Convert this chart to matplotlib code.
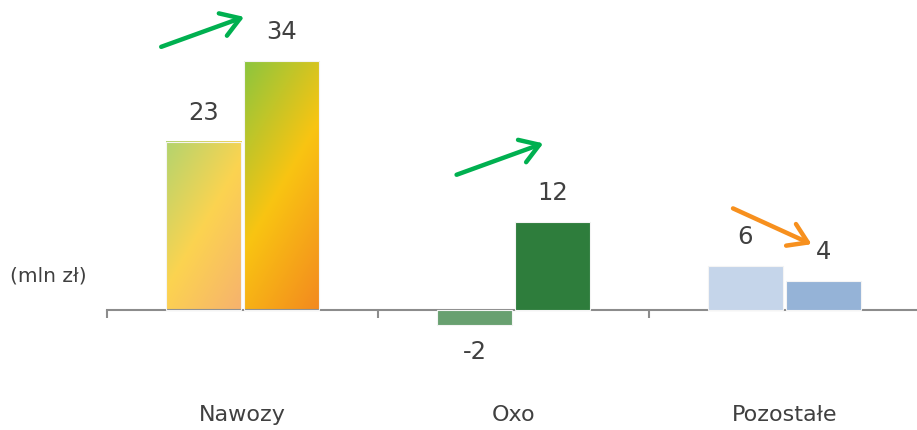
import numpy as np
import matplotlib.pyplot as plt
from matplotlib.colors import LinearSegmentedColormap

categories = ['Nawozy', 'Oxo', 'Pozostałe']
prev_values = [23, -2, 6]
curr_values = [34, 12, 4]

# colours: (start, mid, end) for gradient bars, plain for the rest
prev_colors = [('#b3d46e', '#fcd350', '#f6b26e'), '#68a070', '#c5d5ea']
curr_colors = [('#8cc63e', '#f9c412', '#f3891f'), '#2e7d3c', '#95b3d7']

# trend arrows: (x0, y0, x1, y1) in data units, colour
arrows = [((-0.30, 36.0), (0.006, 40.1), '#00b050'),
          ((0.79, 18.5), (1.11, 22.8), '#00b050'),
          ((1.81, 13.9), (2.10, 9.0), '#f7901e')]

text_col = '#404040'
axis_col = '#8c8c8c'

plt.rcParams['font.family'] = ['DejaVu Sans']

fig = plt.figure(figsize=(9.17, 4.30), dpi=100)
ax = fig.add_axes([107 / 917, 0, 813 / 917, 1])
ax.set_xlim(-0.5, 2.5)
ax.set_ylim(-120 / 7.31, 310 / 7.31)

w = 0.28
off = 0.144
x = np.arange(len(categories))


def grad_bar(xc, val, cols):
    x0, x1 = xc - w / 2, xc + w / 2
    # pixel size of bar for a diagonal gradient
    p0 = ax.transData.transform((x0, 0))
    p1 = ax.transData.transform((x1, val))
    pw, ph = abs(p1[0] - p0[0]), abs(p1[1] - p0[1])
    nx, ny = 60, 200
    u = np.linspace(0, pw, nx)[None, :]
    v = np.linspace(0, ph, ny)[:, None]  # from top
    t = 1.7 * u + v
    t = t / t.max()
    cmap = LinearSegmentedColormap.from_list('g', list(cols))
    ax.imshow(t, cmap=cmap, extent=(x0, x1, 0, val), origin='upper',
              aspect='auto', interpolation='bilinear', zorder=2)


for i in range(len(categories)):
    for xc, val, col in [(x[i] - off, prev_values[i], prev_colors[i]),
                         (x[i] + off, curr_values[i], curr_colors[i])]:
        if isinstance(col, tuple):
            grad_bar(xc, val, col)
            ax.bar(xc, val, w, facecolor='none', edgecolor='#f4f4f4', lw=0.8, zorder=3)
        else:
            ax.bar(xc, val, w, color=col, edgecolor='#f4f4f4', lw=0.8, zorder=3)
        dy = 21 if val >= 0 else -20
        ax.annotate(str(val), (xc, val), xytext=(0, dy), textcoords='offset points',
                    ha='center', va='center', fontsize=17.5, color=text_col)

for (s, e, c) in arrows:
    ax.annotate('', xy=e, xytext=s,
                arrowprops=dict(arrowstyle='->,head_length=0.7,head_width=0.45',
                                mutation_scale=19, lw=3.2, color=c,
                                shrinkA=0, shrinkB=0))

for i, c in enumerate(categories):
    ax.text(x[i], -14.36, c, ha='center', va='center', fontsize=16, color=text_col)

fig.text(10 / 917, 1 - 276 / 430, '(mln zł)', ha='left', va='center',
         fontsize=14.5, color=text_col)

for sp in ['left', 'right', 'top']:
    ax.spines[sp].set_visible(False)
ax.spines['bottom'].set_position(('data', 0))
ax.spines['bottom'].set_color(axis_col)
ax.spines['bottom'].set_linewidth(1.5)
ax.set_xticks([-0.5, 0.5, 1.5, 2.5])
ax.set_xticklabels([])
ax.tick_params(axis='x', direction='out', length=6, width=1.5, color=axis_col)
ax.set_yticks([])
ax.patch.set_visible(False)

fig.savefig('out.png', dpi=100)
